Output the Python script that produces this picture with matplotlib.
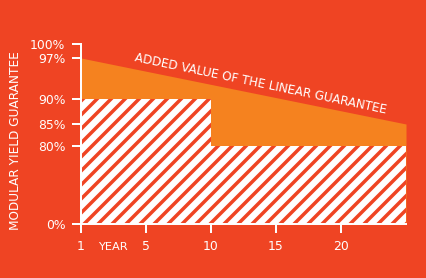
import matplotlib
matplotlib.use("Agg")
import matplotlib.pyplot as plt
import numpy as np

# datos
anios_mod = [0, 10, 25]
garantia_modular = [90, 80, 80]
anios_lin = [0, 25]
garantia_lineal = [97, 85]
ticks_x = [0, 5, 10, 15, 20]
etiquetas_x = ["1", "5", "10", "15", "20"]
ticks_y = [0, 80, 85, 90, 97, 100]
etiquetas_y = ["0%", "80%", "85%", "90%", "97%", "100%"]

ROJO = "#EF4423"
NARANJA = "#F5821F"
BLANCO = "white"
DPI = 84

# escala quebrada del eje y (0-80 comprimido)
y_val = np.array([0, 80, 85, 90, 97, 100], dtype=float)
y_pos = np.array([0, 77.6, 100, 125, 166, 180], dtype=float)

def adelante(v):
    return np.interp(v, y_val, y_pos)

def inversa(p):
    return np.interp(p, y_pos, y_val)

plt.rcParams["font.family"] = ["DejaVu Sans"]
plt.rcParams["hatch.color"] = ROJO
plt.rcParams["hatch.linewidth"] = 3.0

fig = plt.figure(figsize=(426 / DPI, 278 / DPI), dpi=DPI, facecolor=ROJO)
ax = fig.add_axes([81 / 426, 54 / 278, 325 / 426, 180 / 278])
ax.set_facecolor(ROJO)
ax.set_yscale("function", functions=(adelante, inversa))
ax.set_xlim(0, 25)
ax.set_ylim(0, 100)

# garantia lineal (naranja) y modular (rayada)
ax.fill_between(anios_lin, 0, garantia_lineal, color=NARANJA, lw=0, zorder=1)
ax.fill_between(anios_mod, 0, garantia_modular, step="post", facecolor=BLANCO,
                edgecolor=ROJO, hatch="//", lw=0, zorder=2)

for lado in ["top", "right"]:
    ax.spines[lado].set_visible(False)
for lado in ["left", "bottom"]:
    ax.spines[lado].set_color(BLANCO)
    ax.spines[lado].set_linewidth(1.7)
    ax.spines[lado].set_zorder(5)

ax.set_xticks(ticks_x)
ax.set_xticklabels(etiquetas_x)
ax.set_yticks(ticks_y)
ax.set_yticklabels(etiquetas_y)
ax.minorticks_off()
ax.tick_params(colors=BLANCO, length=7.5, width=1.7, labelsize=10.6)
ax.tick_params(axis="y", pad=6)
ax.tick_params(axis="x", pad=6.5)

fig.text(113 / 426, 1 - 247 / 278, "YEAR", color=BLANCO, fontsize=9.8,
         ha="center", va="center")
fig.text(16 / 426, 1 - 141 / 278, "MODULAR YIELD GUARANTEE", color=BLANCO,
         fontsize=10.4, rotation=90, ha="center", va="center")
ax.text(4, 96.0, "ADDED VALUE OF THE LINEAR GUARANTEE", color=BLANCO,
        fontsize=10.3, rotation=-11.8, rotation_mode="anchor",
        ha="left", va="bottom")

fig.savefig("out.png", dpi=DPI, facecolor=ROJO)
